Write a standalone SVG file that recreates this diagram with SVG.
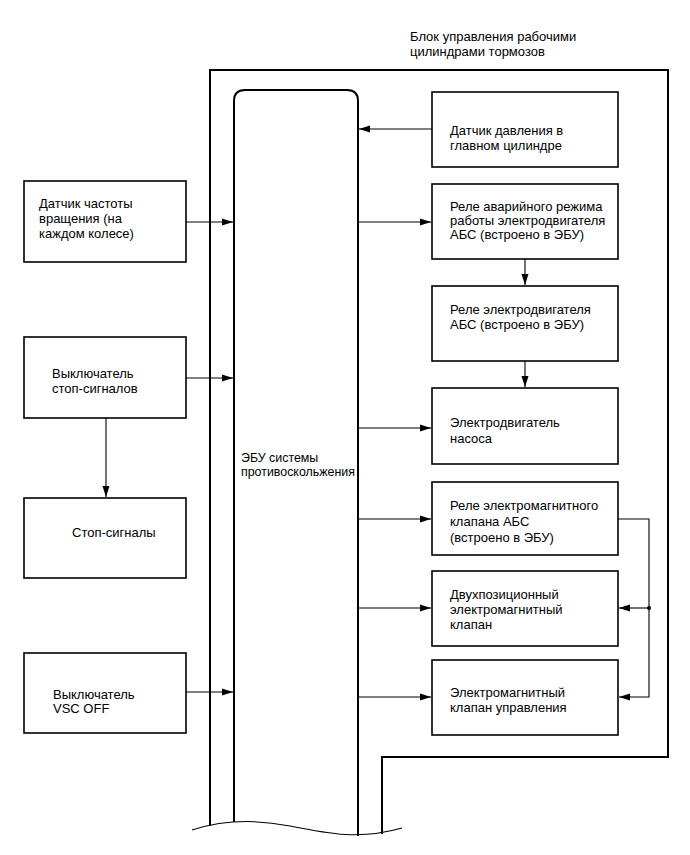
<svg xmlns="http://www.w3.org/2000/svg" width="690" height="855" viewBox="0 0 690 855">
<defs>
<marker id="ah" markerWidth="11" markerHeight="8" refX="11" refY="4" orient="auto" markerUnits="userSpaceOnUse">
<path d="M0,0.5 L11,4 L0,7.5 Z" fill="#000"/>
</marker>
</defs>
<style>
.box{fill:#fff;stroke:#000;stroke-width:1.6}
.thick{fill:none;stroke:#000;stroke-width:2}
.conn{fill:none;stroke:#000;stroke-width:1.1}
text{font-family:"Liberation Sans",Arial,sans-serif;font-size:13px;fill:#000}
.ecu{font-size:12.4px}
</style>
<rect width="690" height="855" fill="#fff"/>
<g id="title">
<text x="410" y="41">Блок управления рабочими</text>
<text x="410" y="56">цилиндрами тормозов</text>
</g>
<g id="brake-block">
<path class="thick" d="M210,826 L210,70 L668,70 L668,757 L382,757 L382,834"/>
</g>
<g id="ecu">
<path class="thick" d="M234,822 L234,101 Q234,90 245,90 L347,90 Q358,90 358,101 L358,836"/>
<text class="ecu" x="241" y="462">ЭБУ системы</text>
<text class="ecu" x="241" y="476">противоскольжения</text>
</g>
<g id="wave">
<path d="M192,830 C220,821 250,818 290,826 S360,840 402,828" fill="none" stroke="#000" stroke-width="1.1"/>
</g>
<g id="speed-sensor">
<rect class="box" x="24" y="181" width="162" height="81"/>
<text x="39" y="208">Датчик частоты</text>
<text x="39" y="223">вращения (на</text>
<text x="39" y="238">каждом колесе)</text>
</g>
<g id="stop-switch">
<rect class="box" x="24" y="337" width="162" height="81"/>
<text x="52" y="378">Выключатель</text>
<text x="52" y="393">стоп-сигналов</text>
</g>
<g id="stop-lights">
<rect class="box" x="24" y="498" width="162" height="80"/>
<text x="72" y="537">Стоп-сигналы</text>
</g>
<g id="vsc-switch">
<rect class="box" x="24" y="653" width="162" height="80"/>
<text x="53" y="699">Выключатель</text>
<text x="53" y="713">VSC OFF</text>
</g>
<g id="pressure-sensor">
<rect class="box" x="432" y="92" width="186" height="75"/>
<text x="450" y="135">Датчик давления в</text>
<text x="450" y="150">главном цилиндре</text>
</g>
<g id="fail-safe-relay">
<rect class="box" x="432" y="184" width="186" height="75"/>
<text x="450" y="211">Реле аварийного режима</text>
<text x="450" y="225">работы электродвигателя</text>
<text x="450" y="239">АБС (встроено в ЭБУ)</text>
</g>
<g id="motor-relay">
<rect class="box" x="432" y="286" width="186" height="75"/>
<text x="450" y="314">Реле электродвигателя</text>
<text x="450" y="329">АБС (встроено в ЭБУ)</text>
</g>
<g id="pump-motor">
<rect class="box" x="432" y="388" width="186" height="76"/>
<text x="450" y="427">Электродвигатель</text>
<text x="450" y="443">насоса</text>
</g>
<g id="solenoid-relay">
<rect class="box" x="432" y="482" width="186" height="73"/>
<text x="450" y="510">Реле электромагнитного</text>
<text x="450" y="526">клапана АБС</text>
<text x="450" y="542">(встроено в ЭБУ)</text>
</g>
<g id="two-position-valve">
<rect class="box" x="432" y="571" width="186" height="75"/>
<text x="450" y="599">Двухпозиционный</text>
<text x="450" y="614">электромагнитный</text>
<text x="450" y="629">клапан</text>
</g>
<g id="control-valve">
<rect class="box" x="432" y="660" width="186" height="75"/>
<text x="450" y="697">Электромагнитный</text>
<text x="450" y="712">клапан управления</text>
</g>
<g id="connectors">
<path class="conn" d="M432,129 L359,129" marker-end="url(#ah)"/>
<path class="conn" d="M186,222 L233,222" marker-end="url(#ah)"/>
<path class="conn" d="M186,378 L233,378" marker-end="url(#ah)"/>
<path class="conn" d="M186,692 L233,692" marker-end="url(#ah)"/>
<path class="conn" d="M106,418 L106,497" marker-end="url(#ah)"/>
<path class="conn" d="M358,222 L431,222" marker-end="url(#ah)"/>
<path class="conn" d="M525,259 L525,285" marker-end="url(#ah)"/>
<path class="conn" d="M525,361 L525,387" marker-end="url(#ah)"/>
<path class="conn" d="M358,428 L431,428" marker-end="url(#ah)"/>
<path class="conn" d="M358,519 L431,519" marker-end="url(#ah)"/>
<path class="conn" d="M358,608 L431,608" marker-end="url(#ah)"/>
<path class="conn" d="M358,697 L431,697" marker-end="url(#ah)"/>
<path class="conn" d="M618,519 L649,519 L649,697 L619,697" marker-end="url(#ah)"/>
<path class="conn" d="M649,608 L619,608" marker-end="url(#ah)"/>
<circle cx="649" cy="608" r="2" fill="#000"/>
</g>
</svg>
